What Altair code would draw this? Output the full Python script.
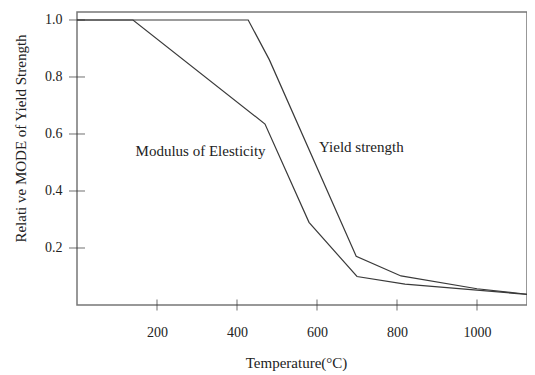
import altair as alt
import pandas as pd

mod_T = [0, 140, 470, 580, 700, 820, 1000, 1143]
mod_v = [1.0, 1.0, 0.635, 0.29, 0.10, 0.073, 0.052, 0.035]
ys_T = [0, 428, 481, 698, 810, 1000, 1143]
ys_v = [1.0, 1.0, 0.86, 0.171, 0.102, 0.057, 0.035]

x_ticks = [200, 400, 600, 800, 1000]
y_ticks = [0.2, 0.4, 0.6, 0.8, 1.0]

label_text = ["Modulus of Elesticity", "Yield strength"]
label_T = [309, 711]
label_v = [0.54, 0.554]

FONT = "Liberation Serif"

df = pd.concat([
    pd.DataFrame({"T": mod_T, "v": mod_v, "s": "Modulus of Elesticity"}),
    pd.DataFrame({"T": ys_T, "v": ys_v, "s": "Yield strength"}),
])
lab = pd.DataFrame({"T": label_T, "v": label_v, "t": label_text})
xt = pd.DataFrame({"T": x_ticks, "v": [0] * len(x_ticks)})
yt = pd.DataFrame({"T": [0] * len(y_ticks), "v": y_ticks})

xs = alt.Scale(domain=[0, 1125], nice=False, zero=False)
ysc = alt.Scale(domain=[0, 1.028], nice=False)

xax = alt.Axis(values=x_ticks, ticks=False, domain=False, grid=False, format="d",
               labelPadding=20, labelFont=FONT, labelFontSize=14, labelColor="#222",
               title="Temperature(°C)", titleFont=FONT, titleFontSize=15,
               titleFontWeight="normal", titleColor="#222",
               titleX=219, titleY=57, titleBaseline="middle", titleAnchor="middle")
yax = alt.Axis(values=y_ticks, ticks=False, domain=False, grid=False, format=".1f",
               labelPadding=15, labelFont=FONT, labelFontSize=14, labelColor="#222",
               title="Relati ve MODE of  Yield Strength", titleFont=FONT, titleFontSize=15,
               titleFontWeight="normal", titleColor="#222",
               titleX=-57, titleY=126, titleBaseline="middle", titleAnchor="middle")

lines = alt.Chart(df).mark_line(strokeWidth=1.2, color="#3a3a3a", clip=True).encode(
    x=alt.X("T:Q", scale=xs, axis=xax),
    y=alt.Y("v:Q", scale=ysc, axis=yax),
    detail="s:N",
)

texts = alt.Chart(lab).mark_text(font=FONT, fontSize=15, color="#222").encode(
    x=alt.X("T:Q", scale=xs), y=alt.Y("v:Q", scale=ysc), text="t:N"
)

xticks = alt.Chart(xt).mark_tick(orient="vertical", size=11, thickness=1, color="#333").encode(
    x=alt.X("T:Q", scale=xs), y=alt.Y("v:Q", scale=ysc)
)
yticks = alt.Chart(yt).mark_tick(orient="horizontal", size=16, thickness=1, color="#333").encode(
    x=alt.X("T:Q", scale=xs), y=alt.Y("v:Q", scale=ysc)
)

chart = alt.layer(lines, texts, xticks, yticks).properties(
    width=450, height=293,
    autosize=alt.AutoSizeParams(type="none"),
    padding={"left": 69, "top": 4, "right": 0, "bottom": 66},
    background="white",
).configure_view(stroke="#777", strokeWidth=1.5)

chart.save("out.html", embed_options={"renderer": "svg", "actions": False})
